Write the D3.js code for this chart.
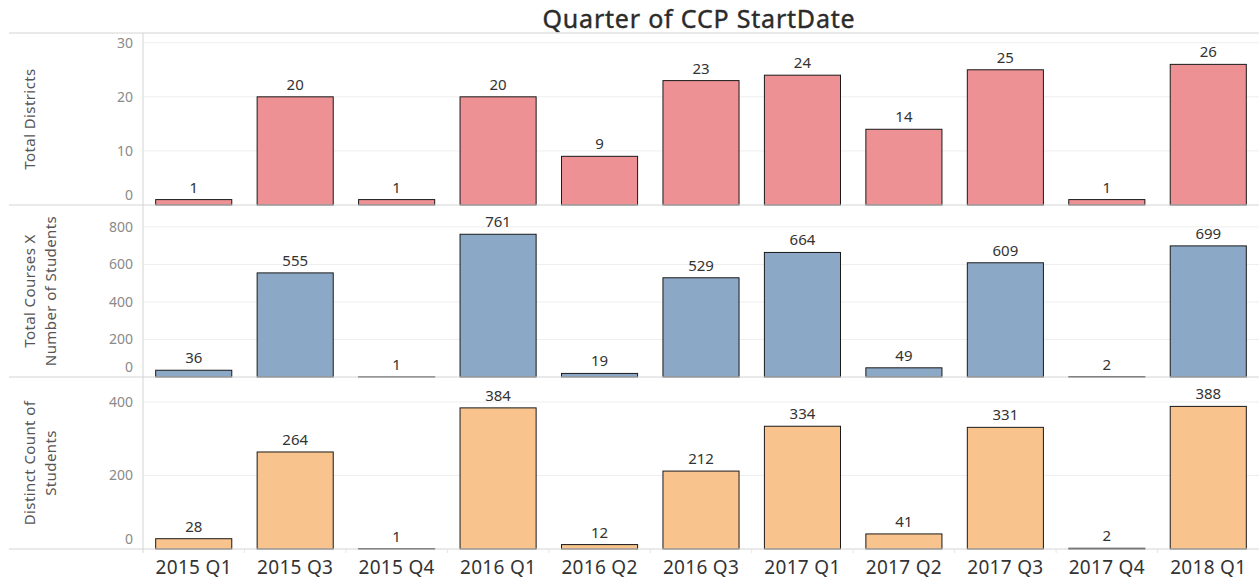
<!DOCTYPE html>
<html>
<head>
<meta charset="utf-8">
<script src="https://cdn.jsdelivr.net/npm/d3@7"></script>
<style>
  body { margin: 0; background: #fff; }
  svg text { font-family: "Noto Sans", "Open Sans", sans-serif; }
</style>
</head>
<body>
<div id="chart"></div>
<script>
// categories and values
const quarters = ['2015 Q1', '2015 Q3', '2015 Q4', '2016 Q1', '2016 Q2', '2016 Q3',
                  '2017 Q1', '2017 Q2', '2017 Q3', '2017 Q4', '2018 Q1'];
const totalDistricts = [1, 20, 1, 20, 9, 23, 24, 14, 25, 1, 26];
const coursesXStudents = [36, 555, 1, 761, 19, 529, 664, 49, 609, 2, 699];
const distinctStudents = [28, 264, 1, 384, 12, 212, 334, 41, 331, 2, 388];

const ticks1 = [0, 10, 20, 30];
const ticks2 = [0, 200, 400, 600, 800];
const ticks3 = [0, 200, 400];

const panels = [
    { title: ['Total Districts'], values: totalDistricts, max: 31.8, ticks: ticks1, color: '#ED9195' },
    { title: ['Total Courses X', 'Number of Students'], values: coursesXStudents, max: 917, ticks: ticks2, color: '#8CA8C7' },
    { title: ['Distinct Count of', 'Students'], values: distinctStudents, max: 468, ticks: ticks3, color: '#F9C38E' }
];

const width = 1259, height = 583;
const marginLeft = 143, topY = 33, panelH = 172;

const svg = d3.select('#chart').append('svg')
    .attr('width', width)
    .attr('height', height);

// title
svg.append('text')
    .attr('x', 699)
    .attr('y', 28)
    .attr('text-anchor', 'middle')
    .attr('font-size', 25)
    .attr('letter-spacing', 0.8)
    .attr('fill', '#2b2b2b')
    .attr('stroke', '#2b2b2b')
    .attr('stroke-width', 0.4)
    .text('Quarter of CCP StartDate');

const x = d3.scaleBand()
    .domain(quarters)
    .range([marginLeft, width])
    .paddingInner(0.25)
    .paddingOuter(0.125);

// top border
svg.append('line')
    .attr('x1', 9).attr('x2', width)
    .attr('y1', topY).attr('y2', topY)
    .attr('stroke', '#d4d4d4');

panels.forEach((p, i) => {
    const y0 = topY + i * panelH;
    const y = d3.scaleLinear()
        .domain([0, p.max])
        .range([y0 + panelH, y0]);

    const g = svg.append('g');

    // gridlines
    g.selectAll('line.grid')
        .data(p.ticks.filter(t => t > 0))
        .join('line')
        .attr('class', 'grid')
        .attr('x1', marginLeft).attr('x2', width)
        .attr('y1', d => y(d)).attr('y2', d => y(d))
        .attr('stroke', '#eeeeee');

    // y axis tick labels
    g.selectAll('text.tick')
        .data(p.ticks)
        .join('text')
        .attr('class', 'tick')
        .attr('x', 133)
        .attr('y', d => Math.min(y(d), y0 + panelH - 10))
        .attr('dy', '0.35em')
        .attr('text-anchor', 'end')
        .attr('font-size', 14)
        .attr('fill', '#8a8a8a')
        .text(d => d);

    // axis title
    const cy = y0 + panelH / 2;
    const lh = 21;
    p.title.forEach((t, k) => {
        const xx = 35 + k * lh;
        g.append('text')
            .attr('transform', `translate(${xx},${cy}) rotate(-90)`)
            .attr('text-anchor', 'middle')
            .attr('font-size', 15)
            .attr('letter-spacing', 0.4)
            .attr('fill', '#555')
            .text(t);
    });

    // bars
    g.selectAll('rect.bar')
        .data(p.values)
        .join('rect')
        .attr('class', 'bar')
        .attr('x', (d, j) => x(quarters[j]))
        .attr('width', x.bandwidth())
        .attr('y', d => y(d))
        .attr('height', d => y(0) - y(d))
        .attr('fill', p.color)
        .attr('stroke', '#1a1a1a')
        .attr('stroke-width', 1);

    // value labels
    g.selectAll('text.val')
        .data(p.values)
        .join('text')
        .attr('class', 'val')
        .attr('x', (d, j) => x(quarters[j]) + x.bandwidth() / 2)
        .attr('y', d => y(d) - 7)
        .attr('text-anchor', 'middle')
        .attr('font-size', 15)
        .attr('fill', '#333')
        .text(d => d);

    // panel bottom line
    g.append('line')
        .attr('x1', 9).attr('x2', width)
        .attr('y1', y0 + panelH).attr('y2', y0 + panelH)
        .attr('stroke', '#d4d4d4');
});

const bottomY = topY + 3 * panelH;

// vertical axis line
svg.append('line')
    .attr('x1', marginLeft).attr('x2', marginLeft)
    .attr('y1', topY).attr('y2', bottomY + 4)
    .attr('stroke', '#d4d4d4');

// column ticks under baseline
svg.selectAll('line.coltick')
    .data(quarters.slice(1))
    .join('line')
    .attr('class', 'coltick')
    .attr('x1', d => x(d) - x.step() * x.paddingInner() / 2)
    .attr('x2', d => x(d) - x.step() * x.paddingInner() / 2)
    .attr('y1', bottomY).attr('y2', bottomY + 4)
    .attr('stroke', '#e6e6e6');

// x labels
svg.selectAll('text.xlab')
    .data(quarters)
    .join('text')
    .attr('class', 'xlab')
    .attr('x', d => x(d) + x.bandwidth() / 2)
    .attr('y', bottomY + 25)
    .attr('text-anchor', 'middle')
    .attr('font-size', 19)
    .attr('letter-spacing', 0.3)
    .attr('fill', '#333')
    .text(d => d);
</script>
</body>
</html>
